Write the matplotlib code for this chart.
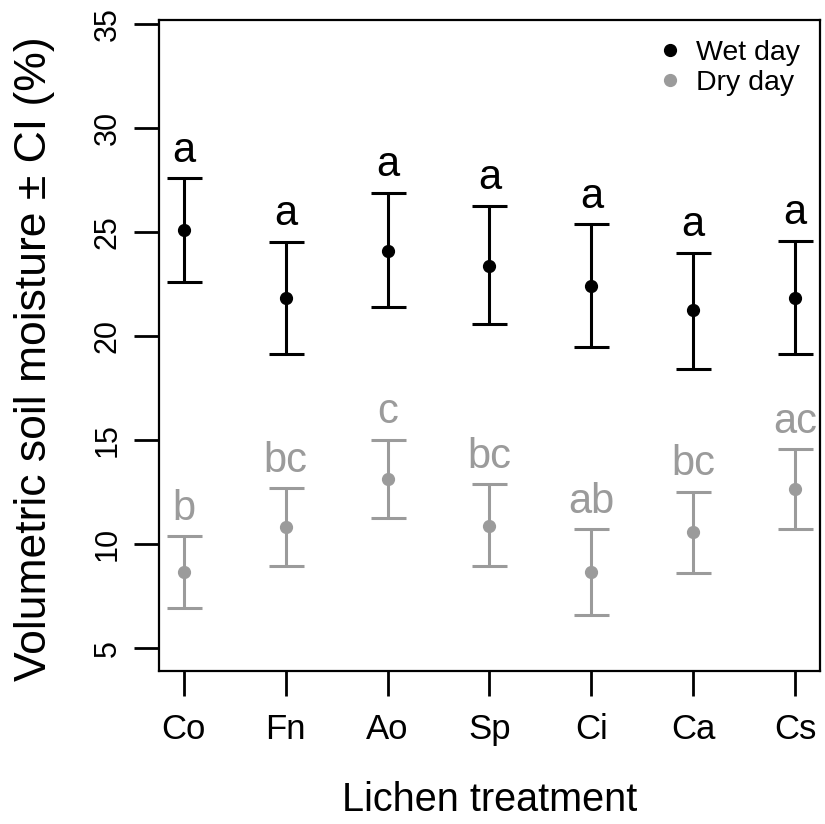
import matplotlib
matplotlib.use("Agg")
import matplotlib.pyplot as plt
from matplotlib.lines import Line2D
import numpy as np

plt.rcParams['font.family'] = ['Liberation Sans', 'DejaVu Sans']

treatments = ["Co", "Fn", "Ao", "Sp", "Ci", "Ca", "Cs"]

wet_mean = [25.10, 21.84, 24.09, 23.38, 22.40, 21.25, 21.84]
wet_lo = [22.58, 19.12, 21.38, 20.56, 19.46, 18.41, 19.13]
wet_hi = [27.58, 24.53, 26.89, 26.27, 25.37, 24.01, 24.57]
wet_letters = ["a", "a", "a", "a", "a", "a", "a"]

dry_mean = [8.64, 10.80, 13.11, 10.88, 8.64, 10.56, 12.64]
dry_lo = [6.94, 8.94, 11.27, 8.94, 6.59, 8.59, 10.72]
dry_hi = [10.38, 12.68, 15.03, 12.88, 10.72, 12.52, 14.55]
dry_letters = ["b", "bc", "c", "bc", "ab", "bc", "ac"]

wet_col = "black"
dry_col = "#9b9b9b"

x = np.arange(1, len(treatments) + 1)

fig = plt.figure(figsize=(8.25, 8.24), dpi=100)
ax = fig.add_axes([0.1927, 0.1857, 0.8012, 0.79])

for mean, lo, hi, letters, col in [(wet_mean, wet_lo, wet_hi, wet_letters, wet_col),
                                   (dry_mean, dry_lo, dry_hi, dry_letters, dry_col)]:
    mean = np.array(mean)
    yerr = [mean - np.array(lo), np.array(hi) - mean]
    ax.errorbar(x, mean, yerr=yerr, fmt='o', color=col, ecolor=col,
                elinewidth=2.2, capsize=12.6, capthick=2.2, markersize=8.5)
    for xi, h, t in zip(x, hi, letters):
        ax.text(xi, h + 0.8, t, ha='center', va='baseline', fontsize=30, color=col)

ax.set_xlim(0.755, 7.245)
ax.set_ylim(3.9, 35.2)
ax.set_xticks(x)
ax.set_xticklabels(treatments)
ax.set_yticks([5, 10, 15, 20, 25, 30, 35])
ax.tick_params(axis='x', labelsize=25, length=18, width=2, pad=12)
ax.tick_params(axis='y', labelsize=22, length=18, width=2, pad=8)
for lab in ax.get_yticklabels():
    lab.set_rotation(90)
    lab.set_va('center')
for s in ax.spines.values():
    s.set_linewidth(1.6)

ax.set_xlabel("Lichen treatment", fontsize=28.5, va='center')
ax.set_ylabel("Volumetric soil moisture \u00b1 CI (%)", fontsize=32, va='center')
ax.xaxis.set_label_coords(0.5, -0.198)
ax.yaxis.set_label_coords(-0.188, 0.48)

handles = [Line2D([], [], marker='o', ls='', color=wet_col, markersize=8.5),
           Line2D([], [], marker='o', ls='', color=dry_col, markersize=8.5)]
ax.legend(handles, ["Wet day", "Dry day"], loc='upper right', frameon=False,
          fontsize=20.5, handletextpad=0.3, labelspacing=0.15,
          bbox_to_anchor=(1.0, 1.0), borderaxespad=0.3, handlelength=1.2)

fig.savefig("out.png", dpi=100)
